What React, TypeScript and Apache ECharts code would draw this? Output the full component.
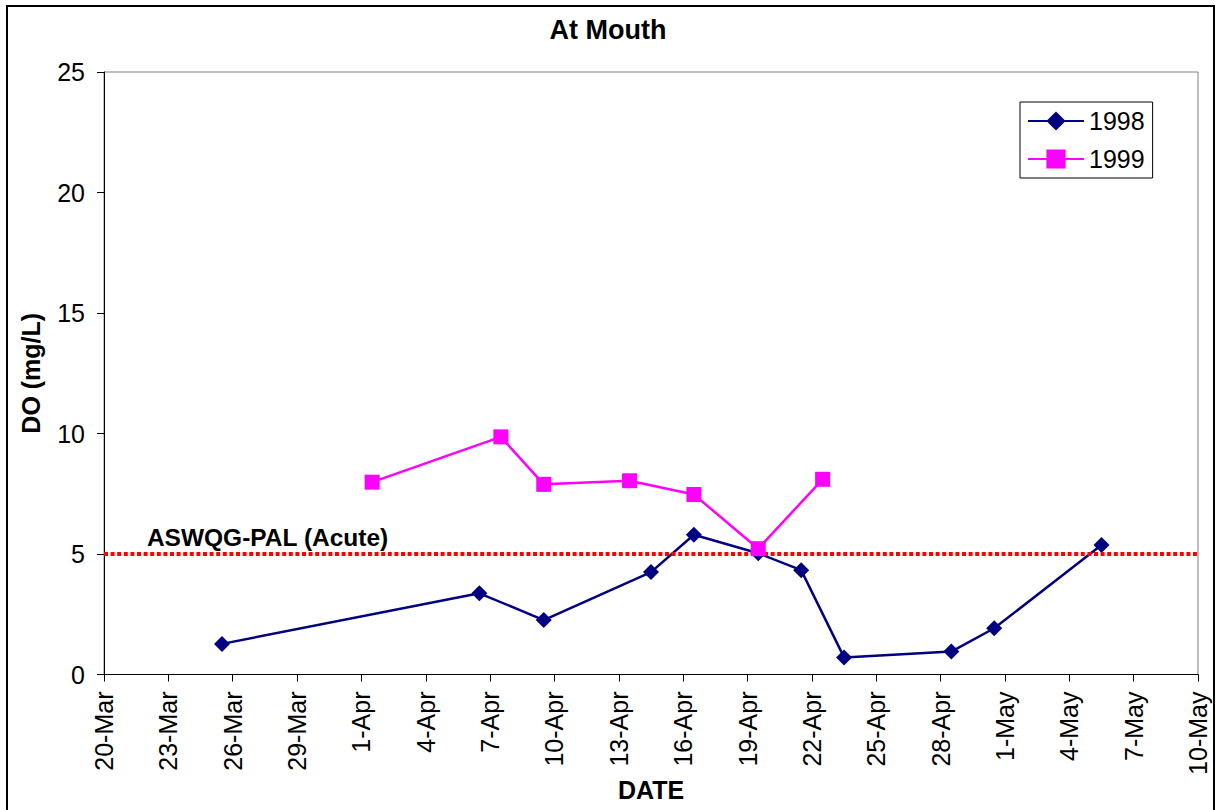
import React, { useEffect, useRef } from "react";
import * as echarts from "echarts";

// ---- data ----
const dates1998 = ["25-Mar", "6-Apr", "9-Apr", "14-Apr", "16-Apr", "19-Apr", "21-Apr", "23-Apr", "28-Apr", "30-Apr", "5-May"];
const values1998 = [1.27, 3.37, 2.26, 4.25, 5.8, 5.03, 4.33, 0.71, 0.95, 1.92, 5.37];
const dates1999 = ["1-Apr", "7-Apr", "9-Apr", "13-Apr", "16-Apr", "19-Apr", "22-Apr"];
const values1999 = [7.98, 9.86, 7.89, 8.04, 7.47, 5.22, 8.1];
const guidelineValue = 5;
const guidelineLabel = "ASWQG-PAL (Acute)";
const guidelineLabelDate = "22-Mar";
const axisStart = "20-Mar";
const axisEnd = "10-May";
const yTicks = [0, 5, 10, 15, 20, 25];

const monthStart: Record<string, number> = { Mar: -20, Apr: 11, May: 41 };
const toDay = (s: string) => {
  const [d, m] = s.split("-");
  return monthStart[m] + parseInt(d, 10);
};
const dayToLabel = (v: number) => {
  const d = Math.round(v);
  if (d <= 11) return `${d + 20}-Mar`;
  if (d <= 41) return `${d - 11}-Apr`;
  return `${d - 41}-May`;
};
// Excel date axis places each point in the middle of its day
const pts = (dates: string[], vals: number[]) => dates.map((d, i) => [toDay(d) + 0.5, vals[i]]);

const FONT = "'Liberation Sans', Arial, sans-serif";

export default function App() {
  const ref = useRef<HTMLDivElement>(null);
  useEffect(() => {
    if (!ref.current) return;
    const chart = echarts.init(ref.current, null, { renderer: "svg" });
    chart.setOption({
      animation: false,
      backgroundColor: "#ffffff",
      textStyle: { fontFamily: FONT, color: "#000" },
      title: {
        text: "At Mouth",
        left: "center",
        top: 16,
        padding: 0,
        textStyle: { fontFamily: FONT, fontSize: 27, fontWeight: "bold", color: "#000" },
      },
      graphic: [
        {
          type: "rect",
          shape: { x: 7, y: 6, width: 1207, height: 830 },
          style: { fill: "none", stroke: "#000", lineWidth: 2 },
          silent: true,
        },
      ],
      legend: {
        data: ["1998", "1999"],
        orient: "vertical",
        left: 1020,
        top: 102,
        itemWidth: 56,
        itemHeight: 24,
        itemGap: 12,
        padding: [6, 8, 6, 7],
        borderColor: "#000",
        borderWidth: 1,
        textStyle: { fontFamily: FONT, fontSize: 25, color: "#000", lineHeight: 26 },
      },
      grid: {
        left: 104,
        top: 72,
        right: 18,
        bottom: 135.5,
        show: true,
        borderColor: "#808080",
        borderWidth: 1,
        outerBoundsMode: "none",
        containLabel: false,
      },
      xAxis: {
        type: "value",
        min: toDay(axisStart),
        max: toDay(axisEnd),
        interval: 3,
        name: "DATE",
        nameLocation: "middle",
        nameGap: 103,
        nameMoveOverlap: false,
        nameTextStyle: { fontFamily: FONT, fontSize: 25, fontWeight: "bold", color: "#000" },
        axisLine: { show: true, lineStyle: { color: "#000", width: 1 } },
        axisTick: { show: true, length: 7, lineStyle: { color: "#000" } },
        splitLine: { show: false },
        axisLabel: {
          rotate: 90,
          margin: 17,
          fontFamily: FONT,
          fontSize: 25,
          color: "#000",
          formatter: (v: number) => dayToLabel(v),
        },
      },
      yAxis: {
        type: "value",
        min: yTicks[0],
        max: yTicks[yTicks.length - 1],
        interval: 5,
        name: "DO (mg/L)",
        nameLocation: "middle",
        nameGap: 61,
        nameMoveOverlap: false,
        nameTextStyle: { fontFamily: FONT, fontSize: 25, fontWeight: "bold", color: "#000" },
        axisLine: { show: true, lineStyle: { color: "#000", width: 1 } },
        axisTick: { show: true, length: 7, lineStyle: { color: "#000" } },
        splitLine: { show: false },
        axisLabel: { margin: 19, fontFamily: FONT, fontSize: 25, color: "#000" },
      },
      series: [
        {
          name: "1998",
          type: "line",
          data: pts(dates1998, values1998),
          symbol: "diamond",
          symbolSize: 16,
          itemStyle: { color: "#000080" },
          lineStyle: { color: "#000080", width: 2.5 },
          z: 3,
        },
        {
          name: "guideline",
          type: "line",
          data: [
            [toDay(axisStart), guidelineValue],
            [toDay(axisEnd), guidelineValue],
          ],
          symbol: "none",
          lineStyle: { color: "#FF0000", width: 4, type: [4, 2.6] },
          z: 4,
          silent: true,
        },
        {
          name: "guidelineLabel",
          type: "scatter",
          data: [[toDay(guidelineLabelDate), guidelineValue]],
          symbolSize: 0,
          silent: true,
          itemStyle: { opacity: 1 },
          label: {
            show: true,
            formatter: guidelineLabel,
            position: [0, -17],
            align: "left",
            verticalAlign: "middle",
            fontFamily: FONT,
            fontSize: 24.5,
            fontWeight: "bold",
            color: "#000",
            opacity: 1,
          },
        },
        {
          name: "1999",
          type: "line",
          data: pts(dates1999, values1999),
          symbol: "rect",
          symbolSize: 15,
          itemStyle: { color: "#FF00FF" },
          lineStyle: { color: "#FF00FF", width: 2.5 },
          z: 5,
        },
      ],
    });
    return () => chart.dispose();
  }, []);
  return (
    <div
      ref={ref}
      style={{ position: "absolute", left: 0, top: 0, width: 1216, height: 810 }}
    />
  );
}
